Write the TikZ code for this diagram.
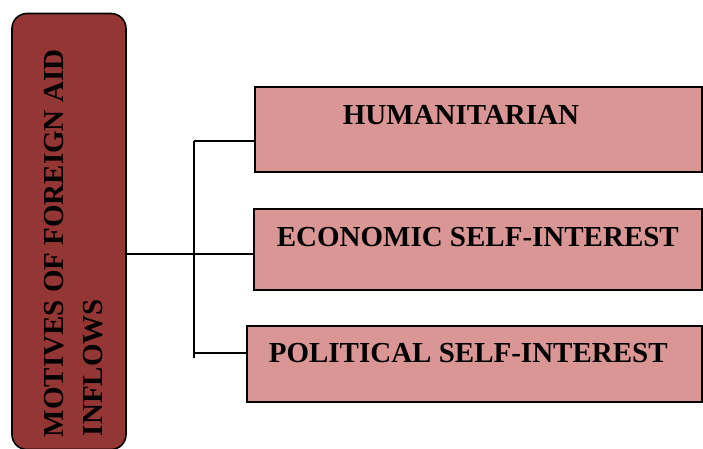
\documentclass[tikz,border=0pt]{standalone}
\usepackage{fontspec}
\setmainfont{Liberation Serif}
\begin{document}
\begin{tikzpicture}[x=1pt,y=1pt,
  line width=1.6pt,
  mainbox/.style={draw=black, fill=motivefill, rounded corners=15pt, inner sep=0pt},
  motivebox/.style={draw=black, fill=branchfill, inner sep=0pt},
  boxtext/.style={font=\fontsize{29}{29}\selectfont\bfseries, inner sep=0pt, anchor=base west},
  link/.style={draw=black, line width=1.5pt}]
\definecolor{motivefill}{RGB}{148,54,52}
\definecolor{branchfill}{RGB}{217,150,148}
\useasboundingbox (0,0) rectangle (703,449);

% main motive box (rotated caption)
\node[mainbox, minimum width=114pt, minimum height=436pt] (motives) at (69,217.5) {};
\node[boxtext, rotate=90] (motiveA) at (63,11) {MOTIVES OF FOREIGN AID};
\node[boxtext, rotate=90] (motiveB) at (102,12) {INFLOWS};

% the three motive boxes
\node[motivebox, minimum width=447pt, minimum height=85pt] (hum) at (478.5,319.5) {};
\node[motivebox, minimum width=448pt, minimum height=81pt] (econ) at (478,199.5) {};
\node[motivebox, minimum width=455pt, minimum height=76pt] (pol) at (474.5,85) {};

\node[boxtext] (humtext) at (342,324) {HUMANITARIAN};
\node[boxtext] (econtext) at (276,202) {ECONOMIC SELF-INTEREST};
\node[boxtext] (poltext) at (268,86) {POLITICAL SELF-INTEREST};

% connectors
\coordinate (spinetop) at (194,308);
\coordinate (spinemid) at (194,195);
\coordinate (spinelow) at (194,96);
\coordinate (spineend) at (194,91);
\draw[link] (spinetop) -- (spineend);
\draw[link] (spinetop) -- (hum.west |- spinetop);
\draw[link] (motives.east |- spinemid) -- (econ.west |- spinemid);
\draw[link] (spinelow) -- (pol.west |- spinelow);
\end{tikzpicture}
\end{document}
